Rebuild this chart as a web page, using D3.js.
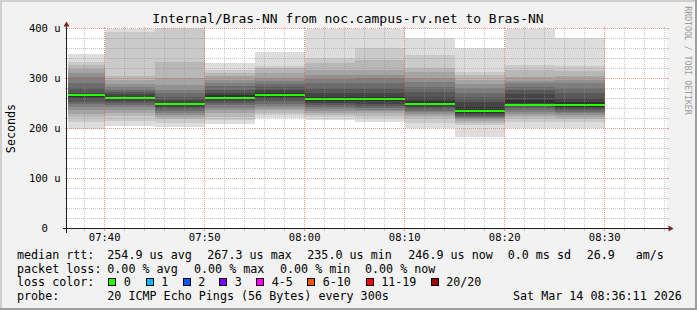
<!DOCTYPE html>
<html>
<head>
<meta charset="utf-8">
<script src="https://cdn.jsdelivr.net/npm/d3@7"></script>
<style>
  body { margin: 0; background: #f2f2f2; }
  text { font-family: "DejaVu Sans Mono", monospace; fill: #000; }
</style>
</head>
<body>
<div id="chart"></div>
<script>
const WIDTH = 697;
const HEIGHT = 310;

// ---- data ----
const titleText = "Internal/Bras-NN from noc.campus-rv.net to Bras-NN";
const graphEnd = "08:36:11";
const barEnds = ["07:40", "07:45", "07:50", "07:55", "08:00", "08:05", "08:10", "08:15", "08:20", "08:25", "08:30"];
const medians = [266, 262, 250, 262, 267.3, 259.5, 259, 250, 235, 248, 246.9];
// 20 sorted pings per 5 minute step (microseconds)
const pings = [
  [200, 214, 222, 229, 237, 244, 249, 254, 259, 264, 268, 272, 282, 292, 303, 312, 319, 328, 334, 350],
  [205, 215, 225, 232, 238, 243, 248, 252, 256, 260, 264, 268, 273, 278, 284, 290, 298, 305, 393, 400],
  [203, 212, 218, 224, 228, 232, 236, 240, 244, 248, 252, 257, 263, 270, 278, 288, 301, 334, 400, 402],
  [209, 217, 224, 231, 237, 242, 247, 251, 255, 259, 266, 272, 278, 286, 292, 298, 305, 312, 318, 332],
  [221, 227, 232, 237, 242, 246, 250, 255, 260, 264, 272, 278, 284, 290, 296, 302, 312, 320, 325, 354],
  [217, 222, 227, 232, 236, 240, 244, 248, 252, 256, 264, 271, 281, 291, 300, 308, 318, 331, 341, 400],
  [214, 220, 226, 231, 235, 238, 242, 246, 250, 255, 263, 271, 281, 291, 301, 308, 318, 338, 361, 400],
  [201, 211, 220, 225, 229, 233, 236, 240, 244, 248, 256, 264, 274, 284, 294, 301, 314, 321, 348, 381],
  [184, 207, 212, 215, 218, 221, 223, 226, 229, 232, 244, 254, 264, 272, 281, 290, 298, 308, 314, 361],
  [201, 214, 220, 226, 230, 234, 238, 242, 246, 251, 258, 268, 277, 284, 291, 296, 304, 318, 328, 400],
  [201, 213, 218, 223, 227, 231, 234, 237, 240, 244, 253, 261, 272, 281, 291, 298, 306, 316, 324, 381]
];
const yTicks = [0, 100, 200, 300, 400];
const yTickLabels = ["0  ", "100 u", "200 u", "300 u", "400 u"];
const xTickLabels = ["07:40", "07:50", "08:00", "08:10", "08:20", "08:30"];
const rttStats = ["254.9 us avg", "267.3 us max", "235.0 us min", "246.9 us now", "0.0 ms sd", "26.9", "am/s"];
const lossStats = ["0.00 % avg", "0.00 % max", "0.00 % min", "0.00 % now"];
const lossLabels = ["0", "1", "2", "3", "4-5", "6-10", "11-19", "20/20"];
const lossColors = ["#26ff00", "#00b8ff", "#0059ff", "#7e00ff", "#ff00ff", "#ff5500", "#ff0000", "#a10000"];
const probeText = "20 ICMP Echo Pings (56 Bytes) every 300s";
const stampText = "Sat Mar 14 08:36:11 2026";

// ---- layout ----
const X0 = 66.5, X1 = 666.5, Y0 = 228.5, Y1 = 28.5;
const parseHM = d3.utcParse("%H:%M");
const parseHMS = d3.utcParse("%H:%M:%S");
const tEnd = parseHMS(graphEnd);
const tStart = new Date(tEnd.getTime() - 3600 * 1000);

const x = d3.scaleUtc().domain([tStart, tEnd]).range([X0, X1]);
const y = d3.scaleLinear().domain([0, 400]).range([Y0, Y1]);
const crisp = v => Math.floor(v) + 0.5;

const SVG = d3.select('#chart')
  .append('svg')
  .attr('width', WIDTH)
  .attr('height', HEIGHT);

// frame
SVG.append('rect').attr('width', WIDTH).attr('height', HEIGHT).attr('fill', '#f2f2f2');
SVG.append('rect').attr('x', 0).attr('y', 0).attr('width', WIDTH).attr('height', 2).attr('fill', '#cfcfcf');
SVG.append('rect').attr('x', 0).attr('y', 0).attr('width', 2).attr('height', HEIGHT).attr('fill', '#cfcfcf');
SVG.append('rect').attr('x', 0).attr('y', HEIGHT - 2).attr('width', WIDTH).attr('height', 2).attr('fill', '#9e9e9e');
SVG.append('rect').attr('x', WIDTH - 2).attr('y', 0).attr('width', 2).attr('height', HEIGHT).attr('fill', '#9e9e9e');

// canvas
SVG.append('rect')
  .attr('x', 67).attr('y', 28)
  .attr('width', 600).attr('height', 200)
  .attr('fill', '#ffffff');

// smoke
const smoke = SVG.append('g').attr('shape-rendering', 'crispEdges');
const half = 10;
barEnds.forEach((label, i) => {
  const t1 = parseHM(label);
  const t0 = new Date(Math.max(tStart.getTime(), t1.getTime() - 300 * 1000));
  const bx0 = Math.round(x(t0)) + (i === 0 ? 0.5 : 0);
  const bx1 = Math.round(x(t1));
  const p = pings[i];
  for (let ibot = 1; ibot <= half; ibot++) {
    const itop = 21 - ibot;
    const c = Math.floor(190 / half * (half - ibot)) + 50;
    smoke.append('rect')
      .attr('x', bx0)
      .attr('width', bx1 - bx0)
      .attr('y', Math.round(y(p[itop - 1])))
      .attr('height', Math.round(y(p[ibot - 1])) - Math.round(y(p[itop - 1])))
      .attr('fill', d3.rgb(c, c, c));
  }
  smoke.append('line')
    .attr('x1', bx0).attr('x2', bx1)
    .attr('y1', Math.round(y(medians[i]))).attr('y2', Math.round(y(medians[i])))
    .attr('stroke', lossColors[0])
    .attr('stroke-width', 2);
});

// grid
const grid = SVG.append('g').attr('shape-rendering', 'crispEdges');
const minorCol = 'rgba(143,143,143,0.5)';
const majorCol = 'rgba(222,79,79,0.55)';

const minorY = d3.range(20, 400, 20).filter(v => v % 100 !== 0);
const majorY = [100, 200, 300, 400];
const allT = x.ticks(d3.utcMinute.every(2));
const minorT = allT.filter(t => t.getUTCMinutes() % 10 !== 0);
const majorT = allT.filter(t => t.getUTCMinutes() % 10 === 0);

function hLine(v, col) {
  const yy = crisp(y(v));
  grid.append('line').attr('x1', X0).attr('x2', X1).attr('y1', yy).attr('y2', yy)
    .attr('stroke', col).attr('stroke-dasharray', '1,1');
  grid.append('line').attr('x1', X0 - 2).attr('x2', X0).attr('y1', yy).attr('y2', yy).attr('stroke', col);
  grid.append('line').attr('x1', X1).attr('x2', X1 + 2).attr('y1', yy).attr('y2', yy).attr('stroke', col);
}
function vLine(t, col) {
  const xx = crisp(x(t));
  grid.append('line').attr('x1', xx).attr('x2', xx).attr('y1', Y0).attr('y2', Y1)
    .attr('stroke', col).attr('stroke-dasharray', '1,1');
  grid.append('line').attr('x1', xx).attr('x2', xx).attr('y1', Y0).attr('y2', Y0 + 2).attr('stroke', col);
  grid.append('line').attr('x1', xx).attr('x2', xx).attr('y1', Y1 - 2).attr('y2', Y1).attr('stroke', col);
}
minorY.forEach(v => hLine(v, minorCol));
minorT.forEach(t => vLine(t, minorCol));
majorY.forEach(v => hLine(v, majorCol));
majorT.forEach(t => vLine(t, majorCol));

// axes + arrows
const axis = SVG.append('g').attr('shape-rendering', 'crispEdges');
axis.append('line').attr('x1', X0 - 4).attr('x2', X1 + 4).attr('y1', Y0).attr('y2', Y0)
  .attr('stroke', '#1f1f1f');
axis.append('line').attr('x1', X0).attr('x2', X0).attr('y1', Y0 + 4).attr('y2', Y1 - 4)
  .attr('stroke', '#1f1f1f');
SVG.append('path')
  .attr('d', `M${X1 + 2},${Y0 - 3}L${X1 + 2},${Y0 + 3}L${X1 + 7},${Y0}Z`)
  .attr('fill', '#801f1f');
SVG.append('path')
  .attr('d', `M${X0 - 3},${Y1 - 2}L${X0 + 3},${Y1 - 2}L${X0},${Y1 - 7}Z`)
  .attr('fill', '#801f1f');

// axis labels
SVG.selectAll('.ylab')
  .data(yTicks)
  .enter()
  .append('text')
  .attr('class', 'ylab')
  .attr('x', 60.5)
  .attr('y', d => y(d) + 3.8)
  .attr('text-anchor', 'end')
  .attr('xml:space', 'preserve')
  .style('font-size', '10.5px')
  .style('white-space', 'pre')
  .text((d, i) => yTickLabels[i]);

SVG.selectAll('.xlab')
  .data(xTickLabels)
  .enter()
  .append('text')
  .attr('class', 'xlab')
  .attr('x', d => x(parseHM(d)))
  .attr('y', 240.7)
  .attr('text-anchor', 'middle')
  .style('font-size', '10.5px')
  .text(d => d);

// title
SVG.append('text')
  .attr('x', 348)
  .attr('y', 22.5)
  .attr('text-anchor', 'middle')
  .style('font-size', '13px')
  .text(titleText);

// unit label
SVG.append('text')
  .attr('transform', 'translate(15,128.5) rotate(-90)')
  .attr('text-anchor', 'middle')
  .style('font-size', '11.7px')
  .text('Seconds');

// watermark
SVG.append('text')
  .attr('transform', 'translate(684.5,60.5) rotate(90)')
  .attr('text-anchor', 'middle')
  .style('font-size', '8.2px')
  .style('fill', '#9a9a9a')
  .text('RRDTOOL / TOBI OETIKER');

// legend
const legend = SVG.append('g').style('font-size', '11.7px');
const rows = [259, 272.5, 286, 300];
legend.append('text').attr('x', 17).attr('y', rows[0]).text('median rtt:');
const rttX = [107.3, 207.3, 307.3, 408.3, 507.7, 586.7, 635.7];
rttStats.forEach((s, i) => legend.append('text').attr('x', rttX[i]).attr('y', rows[0]).text(s));

legend.append('text').attr('x', 17).attr('y', rows[1]).text('packet loss:');
const lossX = [107.3, 194, 280, 365];
lossStats.forEach((s, i) => legend.append('text').attr('x', lossX[i]).attr('y', rows[1]).text(s));

legend.append('text').attr('x', 17).attr('y', rows[2]).text('loss color:');
const boxX = [108, 145.5, 182.5, 219, 256, 307, 365.5, 430.5];
lossLabels.forEach((s, i) => {
  legend.append('rect')
    .attr('x', boxX[i] + 0.5).attr('y', 278.5)
    .attr('width', 7).attr('height', 7)
    .attr('fill', lossColors[i])
    .attr('stroke', '#000')
    .attr('shape-rendering', 'crispEdges');
  legend.append('text').attr('x', boxX[i] + 15.7).attr('y', rows[2]).text(s);
});

legend.append('text').attr('x', 17).attr('y', rows[3]).text('probe:');
legend.append('text').attr('x', 107.3).attr('y', rows[3]).text(probeText);
legend.append('text').attr('x', 513).attr('y', rows[3]).text(stampText);
</script>
</body>
</html>
